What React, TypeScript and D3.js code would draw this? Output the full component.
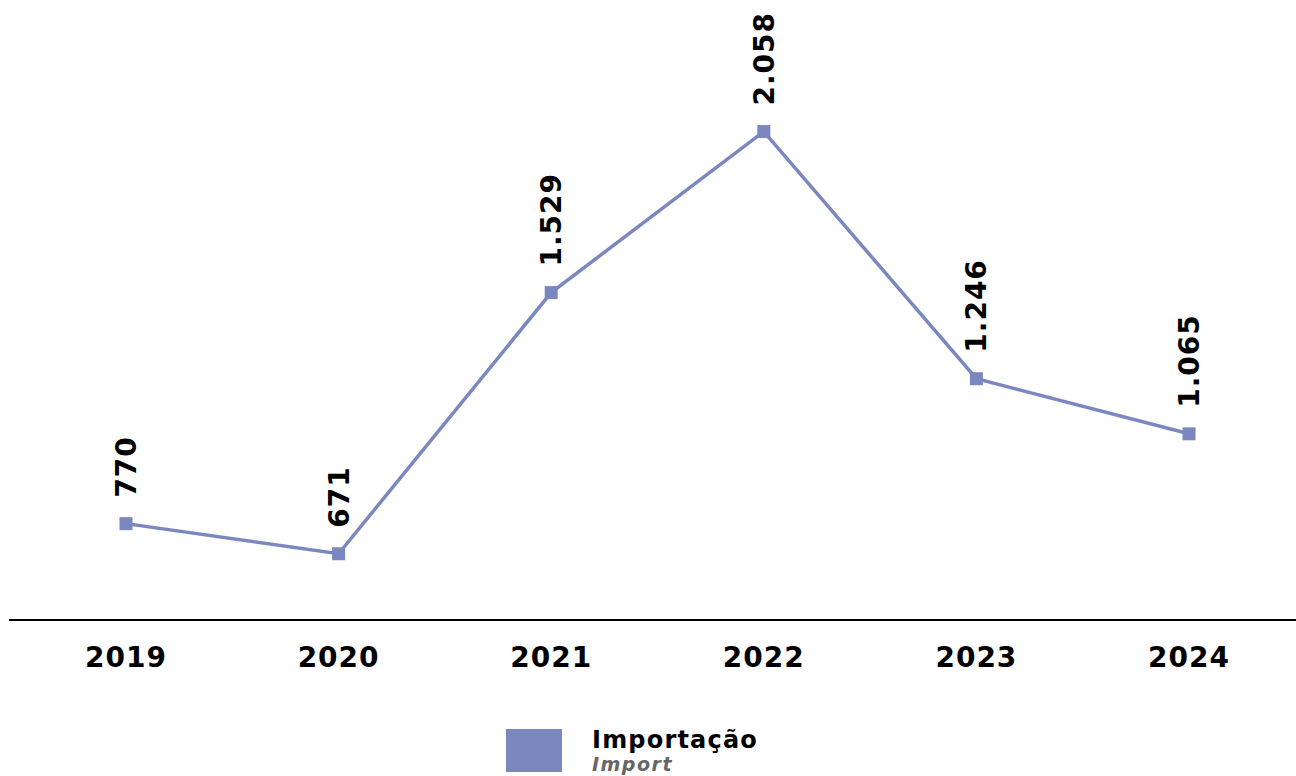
import React from "react";
import * as d3 from "d3";

const years = ["2019", "2020", "2021", "2022", "2023", "2024"];
const values = [770, 671, 1529, 2058, 1246, 1065];
const valueLabels = ["770", "671", "1.529", "2.058", "1.246", "1.065"];
const legendTitle = "Importação";
const legendSubtitle = "Import";

const W = 1296;
const H = 776;
const COLOR = "#7b88bf";
const FONT = "Verdana, 'DejaVu Sans', sans-serif";

export default function App() {
  const x = d3.scaleBand<string>().domain(years).range([19.7, 1295.3]);
  const y = d3.scaleLinear().domain([0, 2500]).range([758, -3]);
  const cx = (d: string) => (x(d) as number) + x.bandwidth() / 2;
  const line = d3
    .line<number>()
    .x((_, i) => cx(years[i]))
    .y((v) => y(v));

  return (
    <svg
      width={W}
      height={H}
      style={{ position: "absolute", left: 0, top: 0, background: "#fff" }}
      fontFamily={FONT}
    >
      <line x1={9} x2={1296} y1={620} y2={620} stroke="#000" strokeWidth={2} />
      {years.map((yr) => (
        <text
          key={yr}
          x={cx(yr)}
          y={667}
          textAnchor="middle"
          fontWeight="bold"
          fontSize={28}
          letterSpacing={1}
          fill="#000"
        >
          {yr}
        </text>
      ))}
      <path d={line(values) || ""} fill="none" stroke={COLOR} strokeWidth={3.5} />
      {values.map((v, i) => (
        <rect
          key={"m" + i}
          x={cx(years[i]) - 6.5}
          y={y(v) - 6.5}
          width={13}
          height={13}
          fill={COLOR}
        />
      ))}
      {values.map((v, i) => (
        <text
          key={"l" + i}
          transform={`translate(${cx(years[i])},${y(v) - 26}) rotate(-90)`}
          textAnchor="start"
          dy="0.36em"
          fontWeight="bold"
          fontSize={28}
          letterSpacing={1}
          fill="#000"
        >
          {valueLabels[i]}
        </text>
      ))}
      <rect x={506} y={729} width={56} height={43} fill={COLOR} />
      <text x={592} y={748} fontWeight="bold" fontSize={24} letterSpacing={1.2} fill="#000">
        {legendTitle}
      </text>
      <text
        x={592}
        y={771}
        fontWeight="bold"
        fontStyle="italic"
        fontSize={19}
        letterSpacing={1.5}
        fill="#666"
      >
        {legendSubtitle}
      </text>
    </svg>
  );
}
